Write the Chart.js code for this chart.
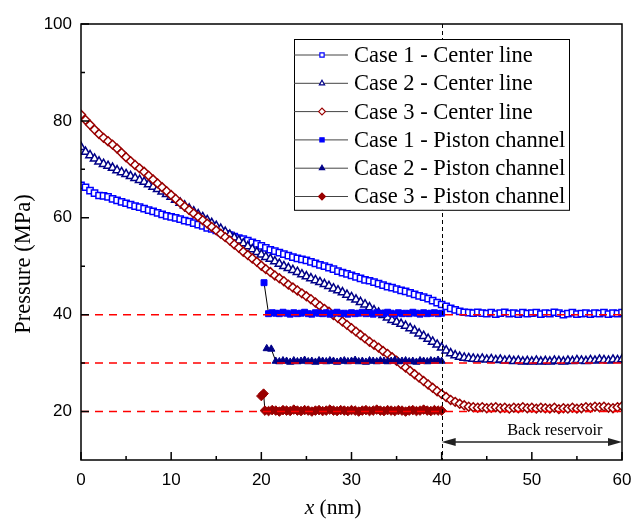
<!DOCTYPE html>
<html>
<head>
<meta charset="utf-8">
<title>Pressure profile</title>
<script src="https://cdn.jsdelivr.net/npm/chart.js@4.4.1/dist/chart.umd.min.js"></script>
<style>
  html, body { margin: 0; padding: 0; background: #fff; }
  canvas { display: block; }
</style>
</head>
<body>
<canvas id="chart" width="642" height="524"></canvas>
<script>
// positions along the channel (nm) for the center-line profiles
const xCenter = [
  0, 0.5, 1, 1.5, 2, 2.5, 3, 3.5, 4, 4.5,
  5, 5.5, 6, 6.5, 7, 7.5, 8, 8.5, 9, 9.5,
  10, 10.5, 11, 11.5, 12, 12.5, 13, 13.5, 14, 14.5,
  15, 15.5, 16, 16.5, 17, 17.5, 18, 18.5, 19, 19.5,
  20, 20.5, 21, 21.5, 22, 22.5, 23, 23.5, 24, 24.5,
  25, 25.5, 26, 26.5, 27, 27.5, 28, 28.5, 29, 29.5,
  30, 30.5, 31, 31.5, 32, 32.5, 33, 33.5, 34, 34.5,
  35, 35.5, 36, 36.5, 37, 37.5, 38, 38.5, 39, 39.5,
  40, 40.5, 41, 41.5, 42, 42.5, 43, 43.5, 44, 44.5,
  45, 45.5, 46, 46.5, 47, 47.5, 48, 48.5, 49, 49.5,
  50, 50.5, 51, 51.5, 52, 52.5, 53, 53.5, 54, 54.5,
  55, 55.5, 56, 56.5, 57, 57.5, 58, 58.5, 59, 59.5,
  60
];

const case1Center = [
  66.7, 66.3, 65.6, 65.1, 64.6, 64.5, 64.3, 63.9, 63.6, 63.3,
  63.0, 62.7, 62.4, 62.2, 61.9, 61.6, 61.3, 61.0, 60.7, 60.4,
  60.2, 60.0, 59.7, 59.4, 59.2, 58.9, 58.6, 58.3, 57.9, 57.7,
  57.4, 57.0, 56.7, 56.4, 56.1, 55.8, 55.6, 55.3, 54.9, 54.6,
  54.2, 53.8, 53.4, 53.1, 52.8, 52.5, 52.2, 51.9, 51.6, 51.4,
  51.2, 50.9, 50.6, 50.3, 50.0, 49.7, 49.4, 49.0, 48.7, 48.4,
  48.1, 47.8, 47.5, 47.2, 47.0, 46.7, 46.4, 46.1, 45.8, 45.6,
  45.3, 45.0, 44.8, 44.5, 44.2, 43.9, 43.6, 43.3, 42.9, 42.5,
  42.1, 41.7, 41.3, 41.0, 40.7, 40.5, 40.4, 40.3, 40.5, 40.3,
  40.2, 40.4, 40.1, 40.3, 40.5, 40.2, 40.3, 40.1, 40.4, 40.2,
  40.3, 40.4, 40.1, 40.3, 40.2, 40.5, 40.3, 40.0, 40.2, 40.4,
  40.1, 40.2, 40.3, 40.1, 40.3, 40.2, 40.4, 40.1, 40.3, 40.2,
  40.4
];

const case2Center = [
  74.6, 73.6, 72.9, 72.2, 71.6, 71.1, 70.7, 70.3, 69.8, 69.4,
  69.0, 68.6, 68.2, 67.8, 67.4, 66.9, 66.4, 65.9, 65.4, 64.9,
  64.3, 63.7, 63.1, 62.5, 61.9, 61.3, 60.7, 60.1, 59.5, 58.9,
  58.3, 57.7, 57.1, 56.5, 55.9, 55.3, 54.7, 54.1, 53.5, 52.9,
  52.4, 51.9, 51.5, 51.0, 50.5, 50.0, 49.6, 49.2, 48.8, 48.3,
  47.9, 47.5, 47.1, 46.7, 46.3, 45.9, 45.4, 45.0, 44.6, 44.1,
  43.6, 43.1, 42.6, 42.1, 41.5, 40.9, 40.4, 39.9, 39.4, 38.9,
  38.5, 38.1, 37.7, 37.2, 36.7, 36.1, 35.6, 35.0, 34.4, 33.8,
  33.2, 32.6, 32.0, 31.6, 31.3, 31.1, 31.0, 30.9, 30.8, 30.9,
  30.7, 30.8, 30.6, 30.7, 30.5, 30.6, 30.4, 30.5, 30.3, 30.4,
  30.3, 30.5, 30.3, 30.4, 30.3, 30.5, 30.4, 30.3, 30.5, 30.4,
  30.6, 30.5, 30.4, 30.6, 30.5, 30.7, 30.6, 30.5, 30.7, 30.6,
  30.8
];

const case3Center = [
  81.3, 80.2, 79.2, 78.2, 77.3, 76.5, 75.8, 75.1, 74.3, 73.4,
  72.5, 71.7, 70.9, 70.2, 69.5, 68.7, 67.9, 67.1, 66.3, 65.5,
  64.7, 63.9, 63.1, 62.3, 61.6, 60.9, 60.2, 59.5, 58.8, 58.1,
  57.4, 56.7, 56.0, 55.3, 54.5, 53.8, 53.0, 52.3, 51.6, 50.9,
  50.1, 49.4, 48.8, 48.1, 47.5, 46.9, 46.2, 45.6, 45.0, 44.4,
  43.8, 43.2, 42.5, 41.8, 41.2, 40.6, 39.9, 39.3, 38.6, 37.9,
  37.2, 36.5, 35.8, 35.1, 34.4, 33.8, 33.2, 32.5, 31.9, 31.2,
  30.5, 29.8, 29.1, 28.4, 27.7, 27.0, 26.3, 25.6, 24.9, 24.2,
  23.6, 23.0, 22.4, 22.0, 21.6, 21.3, 21.0, 20.9, 20.8, 20.9,
  20.7, 20.8, 20.9, 20.7, 20.8, 20.6, 20.8, 20.7, 20.9, 20.7,
  20.8, 20.6, 20.8, 20.7, 20.6, 20.8, 20.5, 20.7, 20.6, 20.8,
  20.6, 20.7, 20.9, 20.8, 21.0, 20.9, 21.0, 20.8, 20.7, 20.9,
  21.1
];

// piston channel samples (first point(s) = piston position, then the channel)
const piston1X = [
  20.3,
  20.8, 21.2, 21.6, 22.0, 22.4, 22.8, 23.2, 23.6, 24.0, 24.4,
  24.8, 25.2, 25.6, 26.0, 26.4, 26.8, 27.2, 27.6, 28.0, 28.4,
  28.8, 29.2, 29.6, 30.0, 30.4, 30.8, 31.2, 31.6, 32.0, 32.4,
  32.8, 33.2, 33.6, 34.0, 34.4, 34.8, 35.2, 35.6, 36.0, 36.4,
  36.8, 37.2, 37.6, 38.0, 38.4, 38.8, 39.2, 39.6, 40.0
];
const case1Piston = [
  46.6,
  40.2, 40.4, 40.3, 40.2, 40.5, 40.3, 40.1, 40.4, 40.2, 40.3,
  40.5, 40.2, 40.1, 40.4, 40.3, 40.2, 40.4, 40.1, 40.3, 40.5,
  40.2, 40.3, 40.1, 40.4, 40.2, 40.3, 40.5, 40.2, 40.3, 40.1,
  40.4, 40.3, 40.2, 40.5, 40.3, 40.1, 40.4, 40.2, 40.3, 40.2,
  40.5, 40.3, 40.1, 40.4, 40.2, 40.3, 40.4, 40.2, 40.3
];

const piston2X = [
  20.6, 21.1,
  21.6, 22.0, 22.4, 22.8, 23.2, 23.6, 24.0, 24.4, 24.8, 25.2,
  25.6, 26.0, 26.4, 26.8, 27.2, 27.6, 28.0, 28.4, 28.8, 29.2,
  29.6, 30.0, 30.4, 30.8, 31.2, 31.6, 32.0, 32.4, 32.8, 33.2,
  33.6, 34.0, 34.4, 34.8, 35.2, 35.6, 36.0, 36.4, 36.8, 37.2,
  37.6, 38.0, 38.4, 38.8, 39.2, 39.6, 40.0
];
const case2Piston = [
  33.0, 32.9,
  30.4, 30.3, 30.5, 30.4, 30.2, 30.5, 30.3, 30.4, 30.6, 30.3,
  30.4, 30.2, 30.5, 30.4, 30.3, 30.5, 30.4, 30.2, 30.4, 30.5,
  30.3, 30.4, 30.6, 30.3, 30.4, 30.2, 30.5, 30.4, 30.3, 30.5,
  30.4, 30.3, 30.4, 30.6, 30.3, 30.4, 30.5, 30.3, 30.4, 30.2,
  30.5, 30.4, 30.3, 30.5, 30.4, 30.6, 30.4
];

const piston3X = [
  20.0, 20.25,
  20.4, 20.8, 21.2, 21.6, 22.0, 22.4, 22.8, 23.2, 23.6, 24.0,
  24.4, 24.8, 25.2, 25.6, 26.0, 26.4, 26.8, 27.2, 27.6, 28.0,
  28.4, 28.8, 29.2, 29.6, 30.0, 30.4, 30.8, 31.2, 31.6, 32.0,
  32.4, 32.8, 33.2, 33.6, 34.0, 34.4, 34.8, 35.2, 35.6, 36.0,
  36.4, 36.8, 37.2, 37.6, 38.0, 38.4, 38.8, 39.2, 39.6, 40.0
];
const case3Piston = [
  23.2, 23.7,
  20.2, 20.1, 20.3, 20.2, 20.0, 20.3, 20.2, 20.1, 20.4, 20.2,
  20.1, 20.3, 20.2, 20.0, 20.2, 20.3, 20.1, 20.2, 20.4, 20.2,
  20.1, 20.3, 20.2, 20.1, 20.3, 20.2, 20.0, 20.2, 20.3, 20.1,
  20.2, 20.4, 20.2, 20.1, 20.3, 20.2, 20.1, 20.3, 20.2, 20.0,
  20.2, 20.3, 20.1, 20.2, 20.4, 20.2, 20.1, 20.3, 20.2, 20.2
];

// axis ticks
const xTicks = [0, 10, 20, 30, 40, 50, 60];
const xMinorTicks = [5, 15, 25, 35, 45, 55];
const yTicks = [20, 40, 60, 80, 100];
const yMinorTicks = [30, 50, 70, 90];

// annotations
const refLevels = [40, 30, 20];     // red dashed reference pressures
const boundaryX = 40;               // channel / back reservoir boundary
const reservoirRange = [40, 60];
const arrowLevel = 13.7;
const reservoirLabel = 'Back reservoir';

const BLUE = '#0000ff', NAVY = '#000088', DRED = '#990000';
const SERIF = '"Liberation Serif", "Times New Roman", serif';
const SANS = '"Liberation Sans", Arial, sans-serif';

const pts = (xs, ys) => xs.map((x, i) => ({ x: x, y: ys[i] }));

const centerSet = (label, xs, ys, color, style, order) => ({
	label: label,
	data: pts(xs, ys),
	showLine: true,
	borderColor: '#000',
	borderWidth: 1,
	pointStyle: style,
	pointRadius: style === 'triangle' ? 4.8 : 4.4,
	pointBorderColor: color,
	pointBackgroundColor: '#fff',
	pointBorderWidth: 1.5,
	order: order
});

const pistonSet = (label, xs, ys, color, style, order) => ({
	label: label,
	data: pts(xs, ys),
	showLine: true,
	borderColor: '#000',
	borderWidth: 1,
	pointStyle: style,
	pointRadius: style === 'rectRot' ? 4.8 : 4.2,
	pointBorderColor: color,
	pointBackgroundColor: color,
	pointBorderWidth: 1,
	order: order
});

// draws the frame, inward ticks, dashed guides, arrow and axis titles
const decorations = {
	id: 'decorations',
	afterDatasetsDraw(chart) {
		const { ctx, chartArea: a, scales: { x, y } } = chart;
		ctx.save();

		// red reference levels
		ctx.strokeStyle = '#ff0000';
		ctx.lineWidth = 1.5;
		ctx.setLineDash([8, 6]);
		refLevels.forEach(v => {
			const py = y.getPixelForValue(v);
			ctx.beginPath();
			ctx.moveTo(a.left, py);
			ctx.lineTo(a.right, py);
			ctx.stroke();
		});

		// boundary of the back reservoir
		ctx.strokeStyle = '#000';
		ctx.lineWidth = 1;
		ctx.setLineDash([4, 3]);
		const bx = Math.round(x.getPixelForValue(boundaryX)) + 0.5;
		ctx.beginPath();
		ctx.moveTo(bx, a.top);
		ctx.lineTo(bx, a.bottom);
		ctx.stroke();
		ctx.setLineDash([]);

		// double arrow + label
		const ax1 = x.getPixelForValue(reservoirRange[0]);
		const ax2 = x.getPixelForValue(reservoirRange[1]);
		const ay = y.getPixelForValue(arrowLevel);
		ctx.strokeStyle = '#222';
		ctx.fillStyle = '#222';
		ctx.lineWidth = 1.5;
		ctx.beginPath();
		ctx.moveTo(ax1 + 4, ay);
		ctx.lineTo(ax2 - 4, ay);
		ctx.stroke();
		ctx.beginPath();
		ctx.moveTo(ax1, ay); ctx.lineTo(ax1 + 14, ay - 4); ctx.lineTo(ax1 + 14, ay + 4); ctx.closePath();
		ctx.fill();
		ctx.beginPath();
		ctx.moveTo(ax2, ay); ctx.lineTo(ax2 - 14, ay - 4); ctx.lineTo(ax2 - 14, ay + 4); ctx.closePath();
		ctx.fill();
		ctx.fillStyle = '#000';
		ctx.font = '16.3px ' + SERIF;
		ctx.textAlign = 'center';
		ctx.textBaseline = 'alphabetic';
		ctx.fillText(reservoirLabel, (ax1 + ax2) / 2 + 23, ay - 7);

		// frame
		ctx.strokeStyle = '#000';
		ctx.lineWidth = 1.5;
		ctx.strokeRect(a.left, a.top, a.right - a.left, a.bottom - a.top);

		// inward ticks
		ctx.beginPath();
		xTicks.forEach(v => { const px = x.getPixelForValue(v); ctx.moveTo(px, a.bottom); ctx.lineTo(px, a.bottom - 8); });
		xMinorTicks.forEach(v => { const px = x.getPixelForValue(v); ctx.moveTo(px, a.bottom); ctx.lineTo(px, a.bottom - 4); });
		yTicks.forEach(v => { const py = y.getPixelForValue(v); ctx.moveTo(a.left, py); ctx.lineTo(a.left + 8, py); });
		yMinorTicks.forEach(v => { const py = y.getPixelForValue(v); ctx.moveTo(a.left, py); ctx.lineTo(a.left + 4, py); });
		ctx.stroke();

		// axis titles
		ctx.fillStyle = '#000';
		ctx.font = '22.5px ' + SERIF;
		ctx.textAlign = 'center';
		ctx.textBaseline = 'middle';
		ctx.save();
		ctx.translate(24, 264);
		ctx.rotate(-Math.PI / 2);
		ctx.fillText('Pressure (MPa)', 0, 0);
		ctx.restore();

		const rest = ' (nm)';
		ctx.font = 'italic 21.5px ' + SERIF;
		const wx = ctx.measureText('x').width;
		ctx.font = '21.5px ' + SERIF;
		const wr = ctx.measureText(rest).width;
		const sx = 333 - (wx + wr) / 2;
		ctx.textAlign = 'left';
		ctx.font = 'italic 21.5px ' + SERIF;
		ctx.fillText('x', sx, 508);
		ctx.font = '21.5px ' + SERIF;
		ctx.fillText(rest, sx + wx, 508);

		ctx.restore();
	}
};

// legend box with a line sample and the marker of every series
const boxLegend = {
	id: 'boxLegend',
	afterDraw(chart) {
		const { ctx, chartArea: a } = chart;
		const left = a.left + 213, top = a.top + 15;
		const rowH = 28.3, w = 275;
		const sets = chart.data.datasets;
		const h = rowH * sets.length + 1;
		ctx.save();
		ctx.fillStyle = '#fff';
		ctx.fillRect(left, top, w, h);
		ctx.strokeStyle = '#000';
		ctx.lineWidth = 1;
		ctx.strokeRect(left + 0.5, top + 0.5, w, h);

		sets.forEach((ds, i) => {
			const cy = top + 16 + i * rowH;
			ctx.strokeStyle = '#444';
			ctx.lineWidth = 1;
			ctx.beginPath();
			ctx.moveTo(left, cy);
			ctx.lineTo(left + 54, cy);
			ctx.stroke();
			const opts = {
				pointStyle: ds.pointStyle,
				radius: ds.pointStyle === 'rectRot' ? 3.4 : 3,
				rotation: 0,
				borderWidth: 1.2
			};
			ctx.strokeStyle = ds.pointBorderColor;
			ctx.fillStyle = ds.pointBackgroundColor;
			ctx.lineWidth = 1.2;
			Chart.helpers.drawPoint(ctx, opts, left + 28, cy);
			ctx.fillStyle = '#000';
			ctx.font = '22.5px ' + SERIF;
			ctx.textAlign = 'left';
			ctx.textBaseline = 'middle';
			ctx.fillText(ds.label, left + 60, cy + 1);
		});
		ctx.restore();
	}
};

const tickFont = { family: SANS, size: 17 };

new Chart(document.getElementById('chart'), {
	type: 'scatter',
	data: {
		datasets: [
			centerSet('Case 1 - Center line', xCenter, case1Center, BLUE, 'rect', 6),
			centerSet('Case 2 - Center line', xCenter, case2Center, NAVY, 'triangle', 5),
			centerSet('Case 3 - Center line', xCenter, case3Center, DRED, 'rectRot', 4),
			pistonSet('Case 1 - Piston channel', piston1X, case1Piston, BLUE, 'rect', 3),
			pistonSet('Case 2 - Piston channel', piston2X, case2Piston, NAVY, 'triangle', 2),
			pistonSet('Case 3 - Piston channel', piston3X, case3Piston, DRED, 'rectRot', 1)
		]
	},
	options: {
		responsive: false,
		animation: false,
		layout: { padding: { top: 24, right: 20, left: 0, bottom: 0 } },
		plugins: {
			legend: { display: false },
			tooltip: { enabled: false }
		},
		scales: {
			x: {
				type: 'linear',
				min: 0,
				max: 60,
				afterFit: s => { s.height = 64; },
				afterBuildTicks: s => { s.ticks = xTicks.map(v => ({ value: v })); },
				grid: { display: false, drawTicks: false },
				border: { display: false },
				ticks: { font: tickFont, color: '#000', padding: 10, maxRotation: 0, autoSkip: false }
			},
			y: {
				type: 'linear',
				min: 10,
				max: 100,
				afterFit: s => { s.width = 81; },
				afterBuildTicks: s => { s.ticks = yTicks.map(v => ({ value: v })); },
				grid: { display: false, drawTicks: false },
				border: { display: false },
				ticks: { font: tickFont, color: '#000', padding: 9 }
			}
		}
	},
	plugins: [decorations, boxLegend]
});
</script>
</body>
</html>
